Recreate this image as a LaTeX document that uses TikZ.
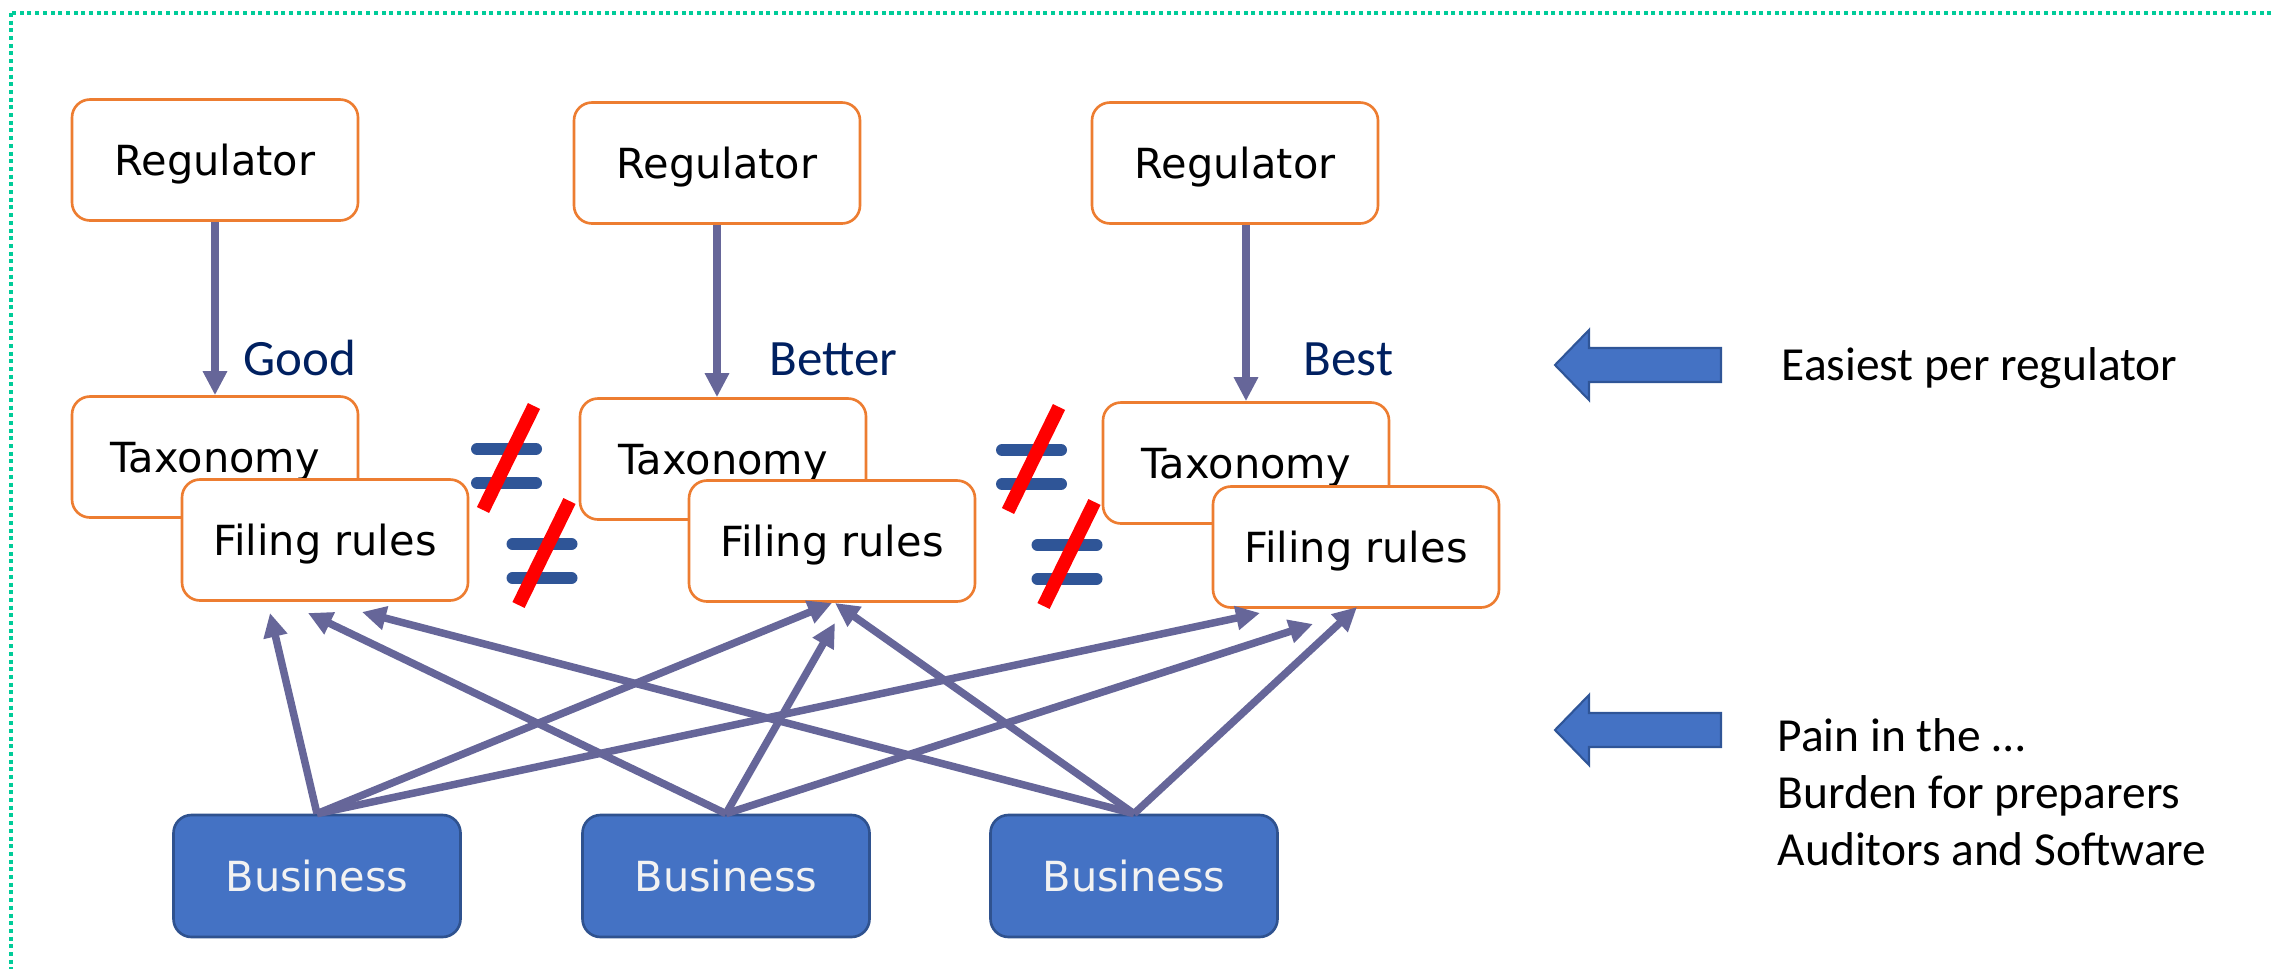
\documentclass[tikz,border=0pt]{standalone}
\usepackage{fontspec}
\setmainfont{DejaVu Sans}
\newfontfamily\carlito{Carlito}
\usetikzlibrary{positioning,arrows.meta}

\definecolor{boxorange}{HTML}{ED7D31}
\definecolor{busblue}{HTML}{4472C4}
\definecolor{busedge}{HTML}{2F528F}
\definecolor{linkgrey}{HTML}{666699}
\definecolor{labelnavy}{HTML}{002060}
\definecolor{barblue}{HTML}{2F5597}
\definecolor{framegreen}{HTML}{00CC99}

% crossed out equal sign
\tikzset{noteq/.pic={
  \draw[barblue,line width=1.2mm,line cap=round] (-29.5,-17) -- (29.5,-17) (-29.5,17) -- (29.5,17);
  \draw[red,line width=1.35mm] (-23.5,44) -- (27.5,-60);
}}

\begin{document}
\begin{tikzpicture}[x=0.1mm,y=-0.1mm]
\useasboundingbox (0,0) rectangle (2275,969);
\draw[framegreen,line width=1.14pt,dash pattern=on 1.14pt off 1.05pt] (11,13) rectangle (2320,1020);

\tikzstyle{every node}=[font=\fontsize{11.8}{14}\selectfont]
\tikzstyle{orgbox}=[draw=boxorange,line width=0.75pt,fill=white,rounded corners=1.8mm,minimum width=28.6mm,minimum height=12.1mm,inner sep=0pt,text height=8.6pt,text depth=0pt]
\tikzstyle{busbox}=[draw=busedge,line width=0.75pt,fill=busblue,text=white!95!black,rounded corners=1.8mm,minimum width=28.7mm,minimum height=12.2mm,inner sep=0pt,text height=8.6pt,text depth=0pt]
\tikzstyle{link}=[linkgrey,line width=0.75mm,-{Triangle[length=2.4mm,width=2.3mm]}]
\tikzstyle{grade}=[text=labelnavy,font=\carlito\fontsize{14.5}{17}\selectfont,anchor=base west,inner sep=0pt]
\tikzstyle{note}=[font=\carlito\fontsize{13.5}{16.2}\selectfont,anchor=base west,inner sep=0pt,align=left]

% regulators
\node[orgbox] (reg1) at (215,160) {Regulator};
\node[orgbox] (reg2) at (717,163) {Regulator};
\node[orgbox] (reg3) at (1235,163) {Regulator};

% taxonomies with filing rules on top
\node[orgbox] (tax1) at (215,457) {Taxonomy};
\node[orgbox] (fr1) at (325,540) {Filing rules};
\node[orgbox] (tax2) at (723,459) {Taxonomy};
\node[orgbox] (fr2) at (832,541) {Filing rules};
\node[orgbox] (tax3) at (1246,463) {Taxonomy};
\node[orgbox] (fr3) at (1356,547) {Filing rules};

% businesses
\node[busbox] (bus1) at (317,876) {Business};
\node[busbox] (bus2) at (726,876) {Business};
\node[busbox] (bus3) at (1134,876) {Business};

\draw[link] (reg1.south) -- (tax1.north);
\draw[link] (reg2.south) -- (reg2.south |- tax2.north);
\draw[link] (tax3.north |- reg3.south) -- (tax3.north);

\node[grade] (good) at (243,375) {Good};
\node[grade] (better) at (769,375) {Better};
\node[grade] (best) at (1303,375) {Best};

\pic at (506.5,466) {noteq};
\pic at (542,561) {noteq};
\pic at (1031.5,467) {noteq};
\pic at (1067,562) {noteq};

% arrow ends below the filing rules
\coordinate (f1a) at (270,613);
\coordinate (f1b) at (308,613);
\coordinate (f1c) at (362,612);
\coordinate (f2a) at (832,603);
\coordinate (f2b) at (835,623);
\coordinate (f2c) at (835,603);
\coordinate (f3a) at (1260,613);
\coordinate (f3b) at (1313,624);
\coordinate (f3c) at (1357,607);

\draw[link] (bus1.north) -- (f1a);
\draw[link] (bus1.north) -- (f2a);
\draw[link] (bus1.north) -- (f3a);
\draw[link] (bus2.north) -- (f1b);
\draw[link] (bus2.north) -- (f2b);
\draw[link] (bus2.north) -- (f3b);
\draw[link] (bus3.north) -- (f1c);
\draw[link] (bus3.north) -- (f2c);
\draw[link] (bus3.north) -- (f3c);

% block arrows
\foreach \y in {365,730}
  \filldraw[fill=busblue,draw=barblue,line width=0.6pt] (1555,\y) -- (1589,\y-35) -- (1589,\y-17)
    -- (1721,\y-17) -- (1721,\y+17) -- (1589,\y+17) -- (1589,\y+35) -- cycle;

\node[note] (easy) at (1781,380) {Easiest per regulator};
\node[note] (pain) at (1777,865) {Pain in the …\\Burden for preparers\\Auditors and Software};
\end{tikzpicture}
\end{document}
